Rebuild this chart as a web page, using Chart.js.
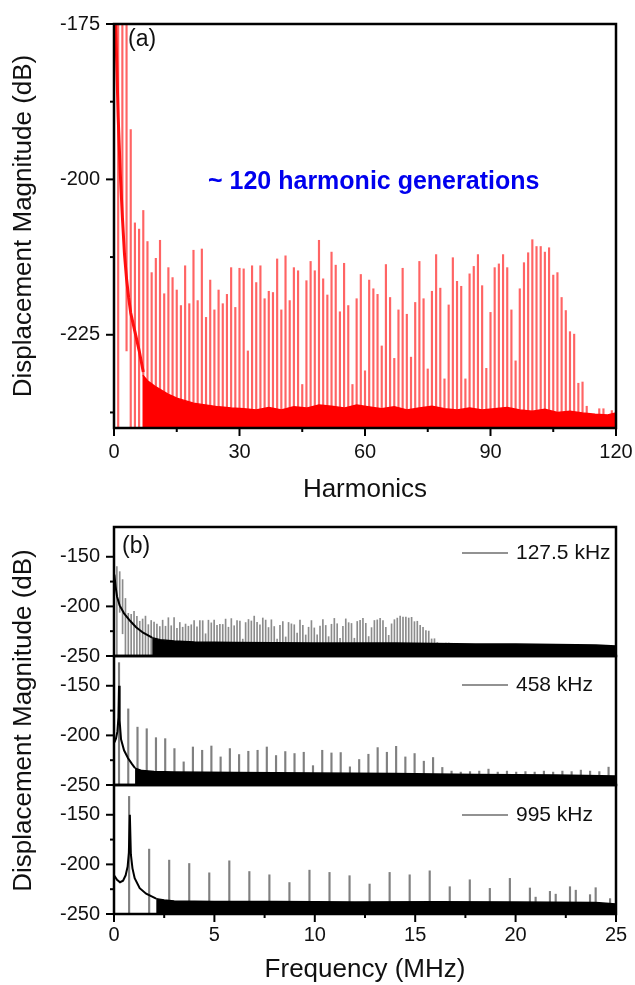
<!DOCTYPE html>
<html>
<head>
<meta charset="utf-8">
<script src="https://cdn.jsdelivr.net/npm/chart.js@4.4.1/dist/chart.umd.min.js"></script>
<style>
  html, body { margin: 0; padding: 0; background: #fff; }
  #page { position: relative; width: 635px; height: 985px; overflow: hidden; }
  .panel { position: absolute; left: 0; width: 635px; }
</style>
</head>
<body>
<div id="page">
  <div class="panel" style="top:0;height:505px"><canvas id="chart-a"></canvas></div>
  <div class="panel" style="top:495px;height:490px"><canvas id="chart-b1"></canvas></div>
  <div class="panel" style="top:495px;height:490px"><canvas id="chart-b2"></canvas></div>
  <div class="panel" style="top:495px;height:490px"><canvas id="chart-b3"></canvas></div>
</div>
<script>
const FONT = '"Liberation Sans", Arial, Helvetica, sans-serif';

// ---- (a) harmonic lines of the 127.5 kHz response, dB
const harmonicNumbers = Array.from({ length: 120 }, (_, i) => i + 1);
const peaksA = [
  -160, -165, -173, -192, -207, -208, -205, -210, -215, -212.7,
  -209.8, -218.4, -214.2, -215.8, -217.8, -220.3, -213.9, -220, -211.4, -219.5,
  -211.2, -222.2, -216.2, -221, -217.8, -220, -218.5, -214.2, -220.6, -214.3,
  -214.4, -227.6, -213.9, -216.6, -213.9, -219.2, -218, -218.2, -212.8, -221,
  -212.3, -219.5, -214.2, -214.7, -233, -216.3, -213.2, -214.7, -209.8, -216,
  -218.6, -211.7, -213.8, -221.3, -213.5, -220.3, -233, -219.2, -215.3, -230.8,
  -216.2, -217.6, -218.5, -226.8, -213.7, -219, -228.8, -221, -214.3, -221.7,
  -228.6, -219.8, -213.2, -219.2, -230.5, -218, -212.1, -217.5, -232.1, -220.2,
  -212.6, -216.4, -217.2, -232.1, -215.2, -214, -212.1, -217.1, -230.4, -221.4,
  -214.2, -213.6, -212.1, -214.2, -221, -229.2, -217.6, -213.4, -211.8, -209.7,
  -210.8, -210.8, -211.7, -211, -215.4, -215, -219, -221.1, -224.5, -224.9,
  -232.8, -232.6, -236.5, -238, -238.5, -236.9, -236.9, -238.5, -237.2, -238,
];
// low harmonics that hang down from the continuum instead of the floor
const lineFootA = { 2: -206, 3: -227.6 };
const continuumA = [
  [0.3, -172], [0.6, -180], [1, -190], [1.5, -199], [2, -206], [2.5, -212],
  [3, -216], [3.5, -219], [4, -221.5], [5, -224.5], [6, -227.5], [7, -231],
];
const noiseA = [
  [6.9, -231.5], [7.5, -232], [8, -232.4], [9, -232.9], [10, -233.4], [11, -233.8],
  [12, -234.2], [13, -234.6], [14, -234.9], [15, -235.2], [17, -235.6], [19, -236],
  [21, -236.2], [23, -236.4], [25, -236.6], [28, -236.8], [31, -236.9], [34, -237.1],
  [37, -236.7], [40, -237.1], [43, -236.6], [46, -236.8], [49, -236.3], [52, -236.5],
  [55, -236.8], [58, -236.3], [61, -236.6], [64, -236.9], [67, -236.6], [70, -237.1],
  [73, -236.8], [76, -236.5], [79, -236.9], [82, -237.1], [85, -236.8], [88, -237.1],
  [91, -236.9], [94, -236.7], [97, -237.1], [100, -237.3], [103, -237], [106, -237.5],
  [109, -237.3], [112, -237.6], [115, -237.8], [118, -237.9], [120, -237.6],
];

// ---- (b) spectra vs frequency, MHz / dB
// top trace reuses the harmonic lines of (a); spacing as drawn in the figure
const b1Spacing = 0.1425;
const continuumB1 = [
  [0.02, -168], [0.08, -180], [0.15, -190], [0.28, -199], [0.5, -207],
  [0.8, -214.5], [1.1, -221], [1.45, -226.5], [1.9, -231.5],
];
const noiseB1 = [
  [1.9, -231.5], [2.3, -233.5], [3, -235], [4, -236], [6, -236.5], [8, -236.7],
  [10, -236.8], [12, -237], [14, -237], [16, -237.5], [18, -237.8], [20, -238],
  [22, -238.3], [24, -239], [25, -240],
];

const b2Start = 0.25;
const b2Spacing = 0.46;
const peaksB2 = [
  -126.7, -173.3, -191.7, -193.3, -202.3, -203.3, -213.3, -226.7, -211.7, -215,
  -210.7, -221.7, -213.3, -219.3, -216, -215, -211.7, -220.3, -216.3, -218.3,
  -217, -230.5, -215, -217.7, -217.3, -231.7, -224.3, -219, -212.3, -217,
  -211, -221.7, -218.3, -226, -222.3, -232.3, -236, -237, -236.5, -236,
  -234, -237, -236, -237, -236.5, -237, -236, -237, -236, -236.5,
  -235, -236, -236.5, -232,
];
const continuumB2 = [
  [0.02, -207], [0.1, -203], [0.17, -196], [0.22, -182], [0.25, -150], [0.28, -185],
  [0.35, -204], [0.5, -215], [0.7, -223], [0.9, -229], [1.05, -233],
];
const noiseB2 = [
  [1.05, -233], [1.4, -235.5], [2, -236.5], [3, -237], [6, -237.5], [10, -238],
  [14, -238.5], [18, -239.5], [22, -240], [25, -241],
];

const b3Start = 0.79;
const b3Spacing = 0.998;
const peaksB3 = [
  -131.5, -184.6, -195.7, -199.1, -208.5, -196.4, -207.2, -210.5, -218.3, -205.8,
  -208.1, -211.4, -219.8, -208.1, -210.5, -206.5, -222.5, -215.5, -224.2, -214.1,
  -223.8, -227.2, -222.5, -230.5, -234.5,
];
const sideLinesB3 = [[20.96, -233], [21.96, -230], [22.96, -226], [23.95, -223.5]];
const continuumB3 = [
  [0.02, -211.5], [0.15, -215.5], [0.3, -218], [0.45, -216.5], [0.58, -211],
  [0.68, -202], [0.74, -188], [0.79, -150], [0.84, -190], [0.92, -204],
  [1.03, -214], [1.28, -224], [1.6, -229.5], [1.95, -233], [2.1, -234.5],
];
const noiseB3 = [
  [2.1, -234.5], [2.5, -236], [3, -236.8], [5, -237.3], [8, -237.5], [12, -237.8],
  [16, -237.6], [20, -238], [24, -238.5], [25, -240],
];

const pairs = list => list.map(([x, y]) => ({ x, y }));

function spikes(xs, tops, floor, feet = {}) {
  return tops.map((top, i) => ({ x: xs[i], y: [feet[i + 1] ?? floor, top] }));
}

const framePlugin = {
  id: 'frame',
  afterDraw(chart, args, o) {
    const { ctx, chartArea: a } = chart;
    const { x, y } = chart.scales;
    ctx.save();
    ctx.strokeStyle = '#000';
    ctx.lineWidth = 2;
    const mark = (list, len, vertical) => {
      for (const v of list || []) {
        ctx.beginPath();
        if (vertical) {
          const p = y.getPixelForValue(v);
          ctx.moveTo(a.left - len, p);
          ctx.lineTo(a.left, p);
        } else {
          const p = x.getPixelForValue(v);
          ctx.moveTo(p, a.bottom);
          ctx.lineTo(p, a.bottom + len);
        }
        ctx.stroke();
      }
    };
    mark(o.yMajor, 8, true);
    mark(o.yMinor, 4, true);
    mark(o.xMajor, 8, false);
    mark(o.xMinor, 4, false);

    ctx.lineWidth = 2.5;
    ctx.strokeRect(a.left, a.top, a.right - a.left, a.bottom - a.top);

    ctx.fillStyle = '#111';
    ctx.textBaseline = 'middle';
    if (o.letter) {
      ctx.font = `23px ${FONT}`;
      ctx.textAlign = 'left';
      ctx.fillText(o.letter.text, a.left + o.letter.dx, a.top + o.letter.dy);
    }
    if (o.legend) {
      const ly = a.top + o.legend.dy;
      ctx.strokeStyle = '#6e6e6e';
      ctx.lineWidth = 1.5;
      ctx.beginPath();
      ctx.moveTo(462, ly);
      ctx.lineTo(508, ly);
      ctx.stroke();
      ctx.font = `21px ${FONT}`;
      ctx.textAlign = 'left';
      ctx.fillText(o.legend.text, 516, ly);
    }
    if (o.note) {
      ctx.font = `bold 25px ${FONT}`;
      ctx.fillStyle = '#0000ee';
      ctx.textAlign = 'left';
      ctx.fillText(o.note.text, o.note.x, o.note.y);
    }
    ctx.restore();
  },
};

// tick marks are drawn by the frame plugin; the invisible grid ticks only space the labels
const hiddenTicks = len => ({
  display: true, drawOnChartArea: false, drawTicks: true, tickLength: len, tickColor: 'rgba(0,0,0,0)',
});

function yAxis(min, max, majors, showTitle) {
  return {
    type: 'linear',
    min,
    max,
    afterBuildTicks: s => { s.ticks = majors.map(v => ({ value: v })); },
    afterFit: s => { s.width = 114; },
    grid: hiddenTicks(14),
    border: { display: false },
    ticks: { padding: 0, color: '#111', font: { family: FONT, size: 20 } },
    title: {
      display: showTitle,
      text: 'Displacement Magnitude (dB)',
      color: '#111',
      font: { family: FONT, size: 26 },
      padding: { top: 8, bottom: 0 },
    },
  };
}

function xAxis(min, max, majors, title, height, labelPad) {
  return {
    type: 'linear',
    min,
    max,
    offset: false,
    display: !!title,
    afterBuildTicks: s => { s.ticks = majors.map(v => ({ value: v })); },
    afterFit: s => { s.height = height; },
    grid: { ...hiddenTicks(labelPad), offset: false },
    border: { display: false },
    ticks: { padding: 0, maxRotation: 0, autoSkip: false, color: '#111', font: { family: FONT, size: 20 } },
    title: {
      display: !!title,
      text: title,
      color: '#111',
      font: { family: FONT, size: 26 },
      padding: { top: 0, bottom: 0 },
    },
  };
}

function spikeSet(data, color, width) {
  return { type: 'bar', data, backgroundColor: color, borderWidth: 0, barThickness: width, order: 2 };
}

function curveSet(points, color, width) {
  return { type: 'line', data: pairs(points), borderColor: color, borderWidth: width, pointRadius: 0, fill: false, tension: 0, order: 1 };
}

function floorSet(points, color) {
  return { type: 'line', data: pairs(points), borderColor: color, backgroundColor: color, borderWidth: 1.5, pointRadius: 0, fill: 'start', tension: 0, order: 0 };
}

function make(id, datasets, scales, padding, frame) {
  new Chart(document.getElementById(id).getContext('2d'), {
    type: 'bar',
    data: { datasets },
    options: {
      responsive: true,
      maintainAspectRatio: false,
      animation: false,
      events: [],
      layout: { padding },
      scales,
      plugins: { legend: { display: false }, tooltip: { enabled: false }, frame },
    },
    plugins: [framePlugin],
  });
}

// (a)
make('chart-a', [
  spikeSet(spikes(harmonicNumbers, peaksA, -240, lineFootA), 'rgba(255,40,40,0.72)', 1.5),
  curveSet(continuumA, '#ff1010', 3),
  floorSet(noiseA, '#ff0000'),
], {
  x: xAxis(0, 120, [0, 30, 60, 90, 120], 'Harmonics', 77, 12),
  y: yAxis(-240, -175, [-175, -200, -225], true),
}, { top: 24, right: 19, left: 0, bottom: 0 }, {
  yMajor: [-175, -200, -225], yMinor: [-187.5, -212.5, -237.5],
  xMajor: [0, 30, 60, 90, 120], xMinor: [15, 45, 75, 105],
  letter: { text: '(a)', dx: 14, dy: 16 },
  note: { text: '~ 120 harmonic generations', x: 208, y: 182 },
});

const bYMajor = [-150, -200, -250];
const bYMinor = [-175, -225];

// (b) canvases all span y 495..985; padding puts each plot in its band
// top: 127.5 kHz (527..656)
make('chart-b1', [
  spikeSet(spikes(harmonicNumbers.map(n => n * b1Spacing), peaksA, -250, lineFootA), '#8c8c8c', 1),
  curveSet(continuumB1, '#000', 2),
  floorSet(noiseB1, '#000'),
], {
  x: xAxis(0, 25, [], '', 0, 0),
  y: yAxis(-250, -120, bYMajor, false),
}, { top: 32, right: 19, left: 0, bottom: 329 }, {
  yMajor: bYMajor, yMinor: bYMinor,
  letter: { text: '(b)', dx: 8, dy: 20 },
  legend: { text: '127.5 kHz', dy: 26 },
});

// middle: 458 kHz (656..785)
make('chart-b2', [
  spikeSet(spikes(peaksB2.map((_, k) => b2Start + b2Spacing * k), peaksB2, -250), '#808080', 1.5),
  curveSet(continuumB2, '#000', 2),
  floorSet(noiseB2, '#000'),
], {
  x: xAxis(0, 25, [], '', 0, 0),
  y: yAxis(-250, -120, bYMajor, true),
}, { top: 161, right: 19, left: 0, bottom: 200 }, {
  yMajor: bYMajor, yMinor: bYMinor,
  legend: { text: '458 kHz', dy: 29 },
});

// bottom: 995 kHz (785..914)
make('chart-b3', [
  spikeSet(spikes(peaksB3.map((_, k) => b3Start + b3Spacing * k), peaksB3, -250), '#808080', 1.5),
  spikeSet(spikes(sideLinesB3.map(p => p[0]), sideLinesB3.map(p => p[1]), -250), '#808080', 1.5),
  curveSet(continuumB3, '#000', 2),
  floorSet(noiseB3, '#000'),
], {
  x: xAxis(0, 25, [0, 5, 10, 15, 20, 25], 'Frequency (MHz)', 71, 9),
  y: yAxis(-250, -120, bYMajor, false),
}, { top: 290, right: 19, left: 0, bottom: 0 }, {
  yMajor: bYMajor, yMinor: bYMinor,
  xMajor: [0, 5, 10, 15, 20, 25], xMinor: [2.5, 7.5, 12.5, 17.5, 22.5],
  legend: { text: '995 kHz', dy: 30 },
});
</script>
</body>
</html>
